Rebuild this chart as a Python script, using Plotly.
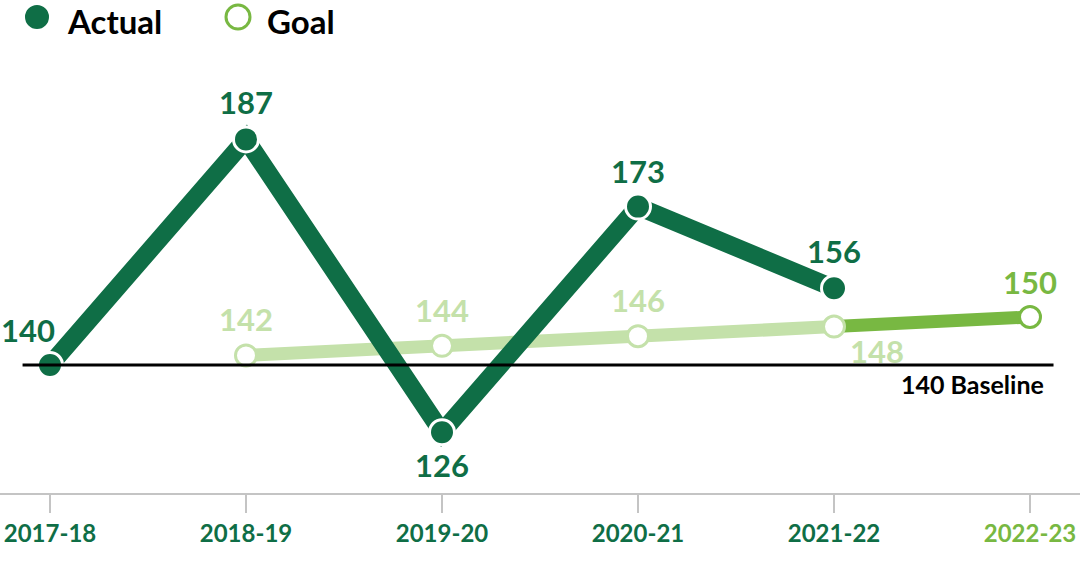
import plotly.graph_objects as go

# ---- data ----
years = ["2017-18", "2018-19", "2019-20", "2020-21", "2021-22", "2022-23"]
actual_years = ["2017-18", "2018-19", "2019-20", "2020-21", "2021-22"]
actual_values = [140, 187, 126, 173, 156]
goal_years = ["2018-19", "2019-20", "2020-21", "2021-22", "2022-23"]
goal_values = [142, 144, 146, 148, 150]
baseline_value = 140
baseline_label = "140 Baseline"

DARK = "#0f6e46"
LIGHT = "#c4e1aa"
BRIGHT = "#78b842"
FONT = "Lato"

xi = {y: i for i, y in enumerate(years)}
ax = [xi[y] for y in actual_years]
gx = [xi[y] for y in goal_years]

fig = go.Figure()

# goal line: light part, then bright final segment
fig.add_trace(go.Scatter(x=gx[:-1], y=goal_values[:-1], mode="lines",
                         line=dict(color=LIGHT, width=13), hoverinfo="skip", showlegend=False))
fig.add_trace(go.Scatter(x=gx[-2:], y=goal_values[-2:], mode="lines",
                         line=dict(color=BRIGHT, width=13), hoverinfo="skip", showlegend=False))
goal_marker_colors = [LIGHT] * (len(goal_values) - 1) + [BRIGHT]
fig.add_trace(go.Scatter(x=gx, y=goal_values, mode="markers",
                         marker=dict(size=21, color="white",
                                     line=dict(color=goal_marker_colors, width=3)),
                         showlegend=False))

# actual line
fig.add_trace(go.Scatter(x=ax, y=actual_values, mode="lines",
                         line=dict(color=DARK, width=18), showlegend=False))
fig.add_trace(go.Scatter(x=ax, y=actual_values, mode="markers",
                         marker=dict(size=25, color=DARK, line=dict(color="white", width=3)),
                         showlegend=False))

# labels
actual_offsets = [(-22, 35), (0, 37), (0, -33), (0, 36), (0, 37)]
for x, v, (dx, dy) in zip(ax, actual_values, actual_offsets):
    fig.add_annotation(x=x, y=v, text=str(v), showarrow=False, xshift=dx, yshift=dy,
                       font=dict(family=FONT, size=31, color=DARK, weight="bold"))
goal_offsets = [(0, 36), (0, 36), (0, 36), (43, -24), (0, 35)]
goal_label_colors = [LIGHT] * (len(goal_values) - 1) + [BRIGHT]
for x, v, (dx, dy), c in zip(gx, goal_values, goal_offsets, goal_label_colors):
    fig.add_annotation(x=x, y=v, text=str(v), showarrow=False, xshift=dx, yshift=dy,
                       font=dict(family=FONT, size=31, color=c, weight="bold"))

# baseline
fig.add_shape(type="line", x0=-0.14, x1=5.12, y0=baseline_value, y1=baseline_value,
              xref="x", yref="y", line=dict(color="black", width=3), layer="above")
fig.add_annotation(x=5.08, y=baseline_value, text=baseline_label, showarrow=False,
                   xanchor="right", yanchor="middle", yshift=-19,
                   font=dict(family=FONT, size=25, color="black", weight="bold"))

# legend (manual)
W, H = 1080, 579
for cx, fill, lc in [(37, DARK, DARK), (238, "white", BRIGHT)]:
    fig.add_shape(type="circle", xref="paper", yref="paper",
                  xsizemode="pixel", ysizemode="pixel",
                  xanchor=cx / W, yanchor=1 - 20 / H,
                  x0=-12, x1=12, y0=-12, y1=12,
                  fillcolor=fill, line=dict(color=lc, width=3 if fill == "white" else 0))
for tx, label in [(66, "Actual"), (266, "Goal")]:
    fig.add_annotation(xref="paper", yref="paper", x=tx / W, y=1,
                       xanchor="left", yanchor="top", borderpad=0, text=label, showarrow=False,
                       font=dict(family=FONT, size=33, color="black", weight="bold"))

tick_colors = [DARK] * 5 + [BRIGHT]
ticktext = [f'<span style="color:{c}">{y}</span>' for y, c in zip(years, tick_colors)]

px_per_unit = 196
first_tick_px = 50
last_tick_px = 1030
fig.update_layout(
    width=W, height=H,
    margin=dict(l=0, r=0, t=0, b=86),
    plot_bgcolor="white", paper_bgcolor="white",
    xaxis=dict(range=[-first_tick_px / px_per_unit, 5 + (W - last_tick_px) / px_per_unit],
               tickvals=list(range(len(years))), ticktext=ticktext,
               showgrid=False, zeroline=False,
               showline=True, linecolor="#c4c4c4", linewidth=2,
               ticks="outside", ticklen=18, tickcolor="#c4c4c4", tickwidth=2,
               ticklabeloverflow="allow",
               tickfont=dict(family=FONT, size=24, color=DARK, weight="bold")),
    yaxis=dict(range=[140 - (493 - 365) / 4.8, 140 + 365 / 4.8],
               visible=False, showgrid=False, zeroline=False),
    showlegend=False,
)

fig.write_html("out.html", config={"displayModeBar": False},
               post_script="document.body.style.margin='0';document.body.style.overflow='hidden';")
